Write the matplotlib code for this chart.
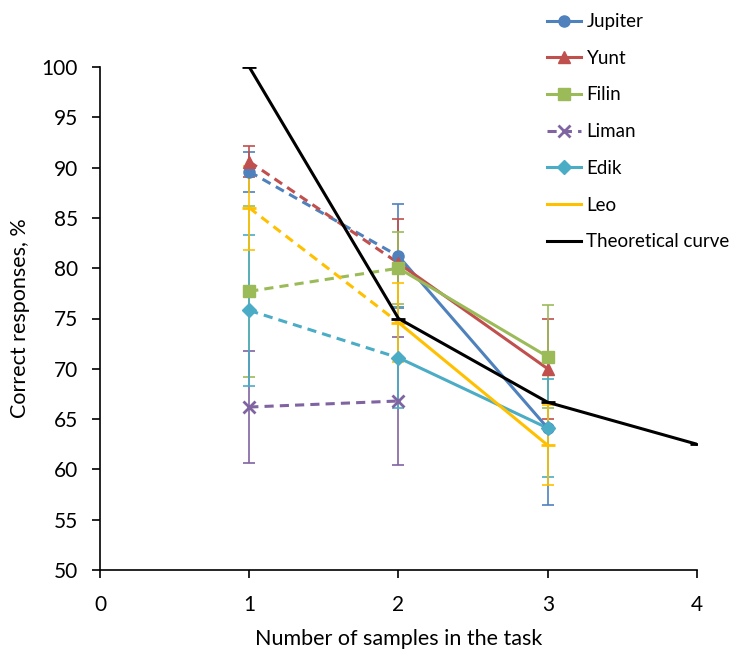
import matplotlib
matplotlib.use("Agg")
import matplotlib.pyplot as plt
from matplotlib.lines import Line2D

plt.rcParams['font.family'] = ['Lato', 'DejaVu Sans']

x_vals = [1, 2, 3]
series_names = ["Jupiter", "Yunt", "Filin", "Liman", "Edik", "Leo"]
jupiter = [89.6, 81.2, 64.1]
yunt = [90.6, 80.5, 70.0]
filin = [77.7, 80.0, 71.2]
liman = [66.2, 66.8]
edik = [75.8, 71.1, 64.1]
leo = [86.0, 74.6, 62.4]
jupiter_err = [2.0, 5.2, 7.6]
yunt_err = [1.5, 4.4, 5.0]
filin_err = [8.5, 3.6, 5.1]
liman_err = [5.6, 6.4]
edik_err = [7.5, 5.0, 4.9]
leo_err = [4.2, 3.9, 4.0]
theory_x = [1, 2, 3, 4]
theory = [100.0, 75.0, 66.67, 62.5]

colors = ["#4F81BD", "#C0504D", "#9BBB59", "#8064A2", "#4BACC6", "#FFC000"]
markers = ["o", "^", "s", "x", "D", "_"]
msizes = [8, 9, 8, 9, 7, 10]
values = [jupiter, yunt, filin, liman, edik, leo]
errs = [jupiter_err, yunt_err, filin_err, liman_err, edik_err, leo_err]

fig = plt.figure(figsize=(7.36, 6.52), dpi=100)
ax = fig.add_axes([100/736, 1-570/652, 597/736, 503/652])

handles = []
for name, c, m, ms, v, e in zip(series_names, colors, markers, msizes, values, errs):
    xs = x_vals[:len(v)]
    ax.errorbar(xs, v, yerr=e, fmt='none', ecolor=c, elinewidth=1.2, capsize=4, capthick=1.2, zorder=2)
    # dashed segment 1 -> 2
    ax.plot(xs[:2], v[:2], color=c, lw=2.2, ls=(0, (3, 2)), zorder=3)
    if len(v) > 2:
        ax.plot(xs[1:], v[1:], color=c, lw=2.2, ls='-', zorder=3)
    ax.plot(xs, v, ls='none', marker=m, color=c, ms=ms, mew=2 if m in ('x', '_') else 1, zorder=4)
    handles.append(Line2D([], [], color=c, lw=2.2, ls=(0, (3, 2)) if name == "Liman" else '-',
                          marker=m, ms=ms, mew=2 if m in ('x', '_') else 1))

ax.plot(theory_x, theory, color='black', lw=2.2, marker='_', ms=10, mew=2, zorder=5)
handles.append(Line2D([], [], color='black', lw=2.2, marker='_', ms=10, mew=2))

ax.set_xlim(0, 4)
ax.set_ylim(50, 100)
ax.set_xticks([0, 1, 2, 3, 4])
ax.set_yticks(range(50, 101, 5))
for s in ['top', 'right']:
    ax.spines[s].set_visible(False)
ax.spines['left'].set_linewidth(1.2)
ax.spines['bottom'].set_linewidth(1.2)
ax.tick_params(axis='both', labelsize=15, length=6, width=1.2, direction='out')
ax.tick_params(axis='x', pad=12)
ax.tick_params(axis='y', pad=10)
ax.set_xlabel("Number of samples in the task", fontsize=15.5, labelpad=10)
ax.set_ylabel("Correct responses, %", fontsize=15.5, labelpad=8)

fig.legend(handles, series_names + ["Theoretical curve"], loc='upper left',
           bbox_to_anchor=(534/736, 1.0), frameon=False, fontsize=13.5,
           labelspacing=1.05, handlelength=1.8, handletextpad=0.3, borderaxespad=0.3)

fig.savefig("out.png", dpi=100)
